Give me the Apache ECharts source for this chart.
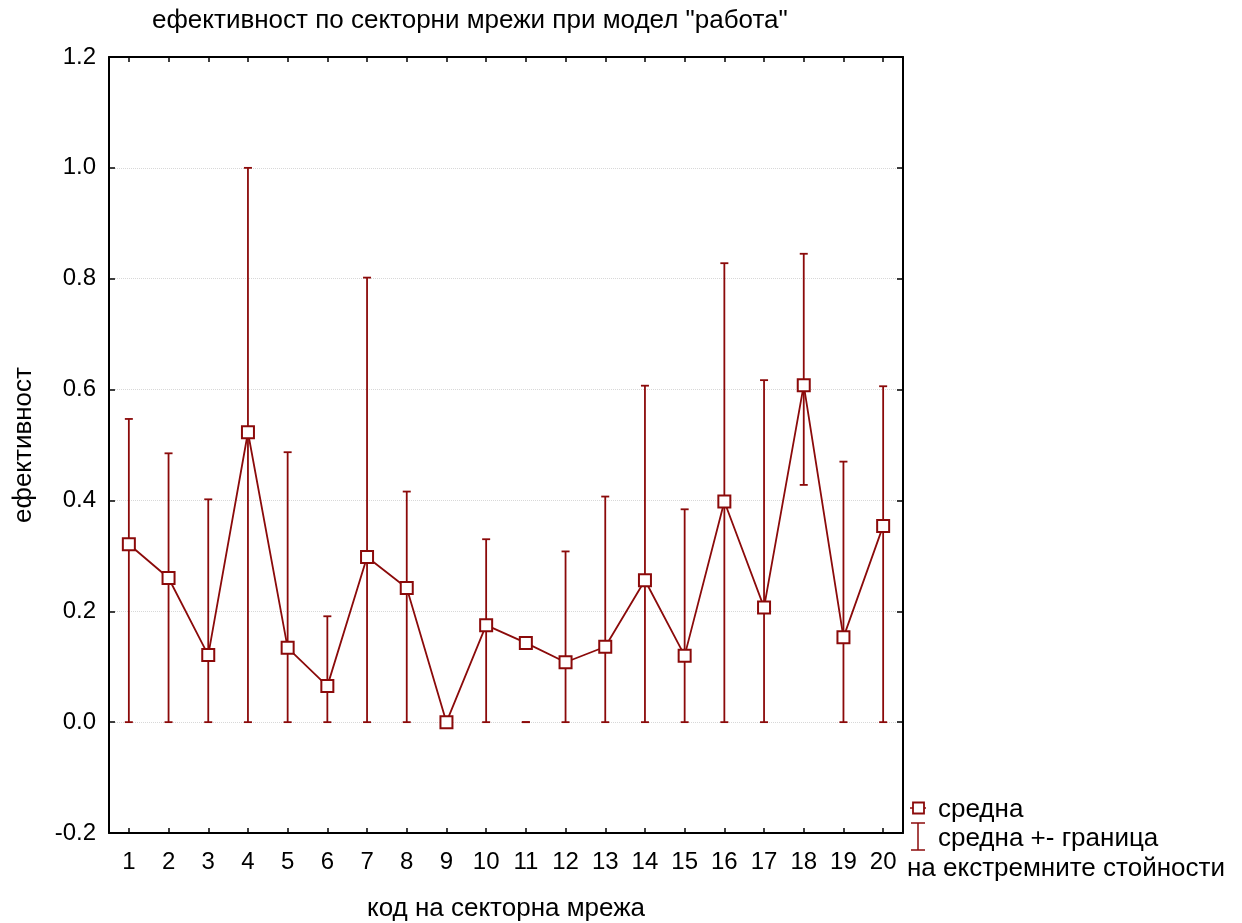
<!DOCTYPE html>
<html><head><meta charset="utf-8">
<script src="https://cdn.jsdelivr.net/npm/echarts@6/dist/echarts.min.js"></script>
<style>html,body{margin:0;padding:0;background:#fff}#c{width:1242px;height:923px}</style>
</head><body><div id="c"></div>
<script>
const categories = ['1','2','3','4','5','6','7','8','9','10','11','12','13','14','15','16','17','18','19','20'];
const meanValues = [0.321,0.260,0.121,0.523,0.134,0.065,0.298,0.242,0.000,0.175,0.143,0.108,0.136,0.256,0.120,0.398,0.207,0.608,0.153,0.354];
const lowValues  = [0,0,0,0,0,0,0,0,0,0,0,0,0,0,0,0,0,0.428,0,0];
const highValues = [0.547,0.485,0.402,1.000,0.487,0.191,0.802,0.416,0.000,0.330,0.000,0.308,0.407,0.607,0.384,0.828,0.617,0.845,0.470,0.606];
const yTicks = [-0.2,0,0.2,0.4,0.6,0.8,1.0,1.2];

const RED = '#8b0a0a';
const FONT = '"Liberation Sans", Arial, sans-serif';
const chart = echarts.init(document.getElementById('c'), null, {renderer:'canvas'});
const errData = categories.map((c,i)=>[i, lowValues[i], highValues[i]]);
const yMin = yTicks[0], yMax = yTicks[yTicks.length-1];

chart.setOption({
  animation:false,
  backgroundColor:'#fff',
  title:{text:'ефективност по секторни мрежи при модел "работа"', left:147, top:3,
    textStyle:{fontFamily:FONT, fontSize:26, fontWeight:'normal', color:'#000'}},
  grid:{left:109, right:339, top:57, bottom:90, containLabel:false, outerBoundsMode:'none'},
  xAxis:[{
    type:'category', data:categories, boundaryGap:true, position:'bottom',
    name:'код на секторна мрежа', nameLocation:'middle', nameGap:63,
    nameTextStyle:{fontFamily:FONT, fontSize:26, color:'#000'},
    axisLine:{show:true, onZero:false, lineStyle:{color:'#000', width:2}},
    axisTick:{show:true, inside:true, alignWithLabel:true, length:5, lineStyle:{color:'#000', width:1.5}},
    axisLabel:{fontFamily:FONT, fontSize:24, color:'#000', margin:17, interval:0},
    splitLine:{show:false}
  },{
    type:'category', data:categories, boundaryGap:true, position:'top',
    axisLine:{show:true, onZero:false, lineStyle:{color:'#000', width:2}},
    axisTick:{show:true, inside:true, alignWithLabel:true, length:5, lineStyle:{color:'#000', width:1.5}},
    axisLabel:{show:false}, splitLine:{show:false}
  }],
  yAxis:[{
    type:'value', min:yMin, max:yMax, interval:0.2, position:'left',
    name:'ефективност', nameLocation:'middle', nameGap:72,
    nameTextStyle:{fontFamily:FONT, fontSize:26, color:'#000'},
    axisLine:{show:true, onZero:false, lineStyle:{color:'#000', width:2}},
    axisTick:{show:true, inside:true, length:6, lineStyle:{color:'#000', width:1.5}},
    axisLabel:{fontFamily:FONT, fontSize:24, color:'#000', margin:13, formatter:v=>v.toFixed(1)},
    splitLine:{show:true, lineStyle:{color:'#d8d8d8', type:'dotted', width:1}}
  },{
    type:'value', min:yMin, max:yMax, interval:0.2, position:'right',
    axisLine:{show:true, onZero:false, lineStyle:{color:'#000', width:2}},
    axisTick:{show:true, inside:true, length:6, lineStyle:{color:'#000', width:1.5}},
    axisLabel:{show:false}, splitLine:{show:false}
  }],
  series:[{
    type:'custom', xAxisIndex:0, yAxisIndex:0, z:2,
    data:errData,
    renderItem:function(params, api){
      const x = api.coord([api.value(0), api.value(1)])[0];
      const yl = api.coord([api.value(0), api.value(1)])[1];
      const yh = api.coord([api.value(0), api.value(2)])[1];
      const hw = 4;
      const st = {stroke:RED, lineWidth:1.8};
      return {type:'group', children:[
        {type:'line', shape:{x1:x,y1:yl,x2:x,y2:yh}, style:st},
        {type:'line', shape:{x1:x-hw,y1:yl,x2:x+hw,y2:yl}, style:st},
        {type:'line', shape:{x1:x-hw,y1:yh,x2:x+hw,y2:yh}, style:st}
      ]};
    }
  },{
    type:'line', xAxisIndex:0, yAxisIndex:0, z:3,
    data:meanValues,
    symbol:'rect', symbolSize:12, showAllSymbol:true,
    lineStyle:{color:RED, width:1.8},
    itemStyle:{color:'#fff', borderColor:RED, borderWidth:2}
  }],
  graphic:[
    {type:'line', shape:{x1:910,y1:808,x2:926,y2:808}, style:{stroke:RED, lineWidth:1.5}},
    {type:'rect', shape:{x:913,y:802.5,width:11,height:11}, style:{fill:'#fff', stroke:RED, lineWidth:1.8}},
    {type:'text', style:{x:938, y:810, text:'средна', font:'26px '+FONT, fill:'#000', textAlign:'left', textVerticalAlign:'middle'}},
    {type:'line', shape:{x1:918,y1:823,x2:918,y2:850}, style:{stroke:RED, lineWidth:1.5}},
    {type:'line', shape:{x1:911,y1:823,x2:925,y2:823}, style:{stroke:RED, lineWidth:1.5}},
    {type:'line', shape:{x1:911,y1:850,x2:925,y2:850}, style:{stroke:RED, lineWidth:1.5}},
    {type:'text', style:{x:938, y:839, text:'средна +- граница', font:'26px '+FONT, fill:'#000', textAlign:'left', textVerticalAlign:'middle'}},
    {type:'text', style:{x:907, y:869, text:'на екстремните стойности', font:'26px '+FONT, fill:'#000', textAlign:'left', textVerticalAlign:'middle'}}
  ]
});
</script></body></html>
